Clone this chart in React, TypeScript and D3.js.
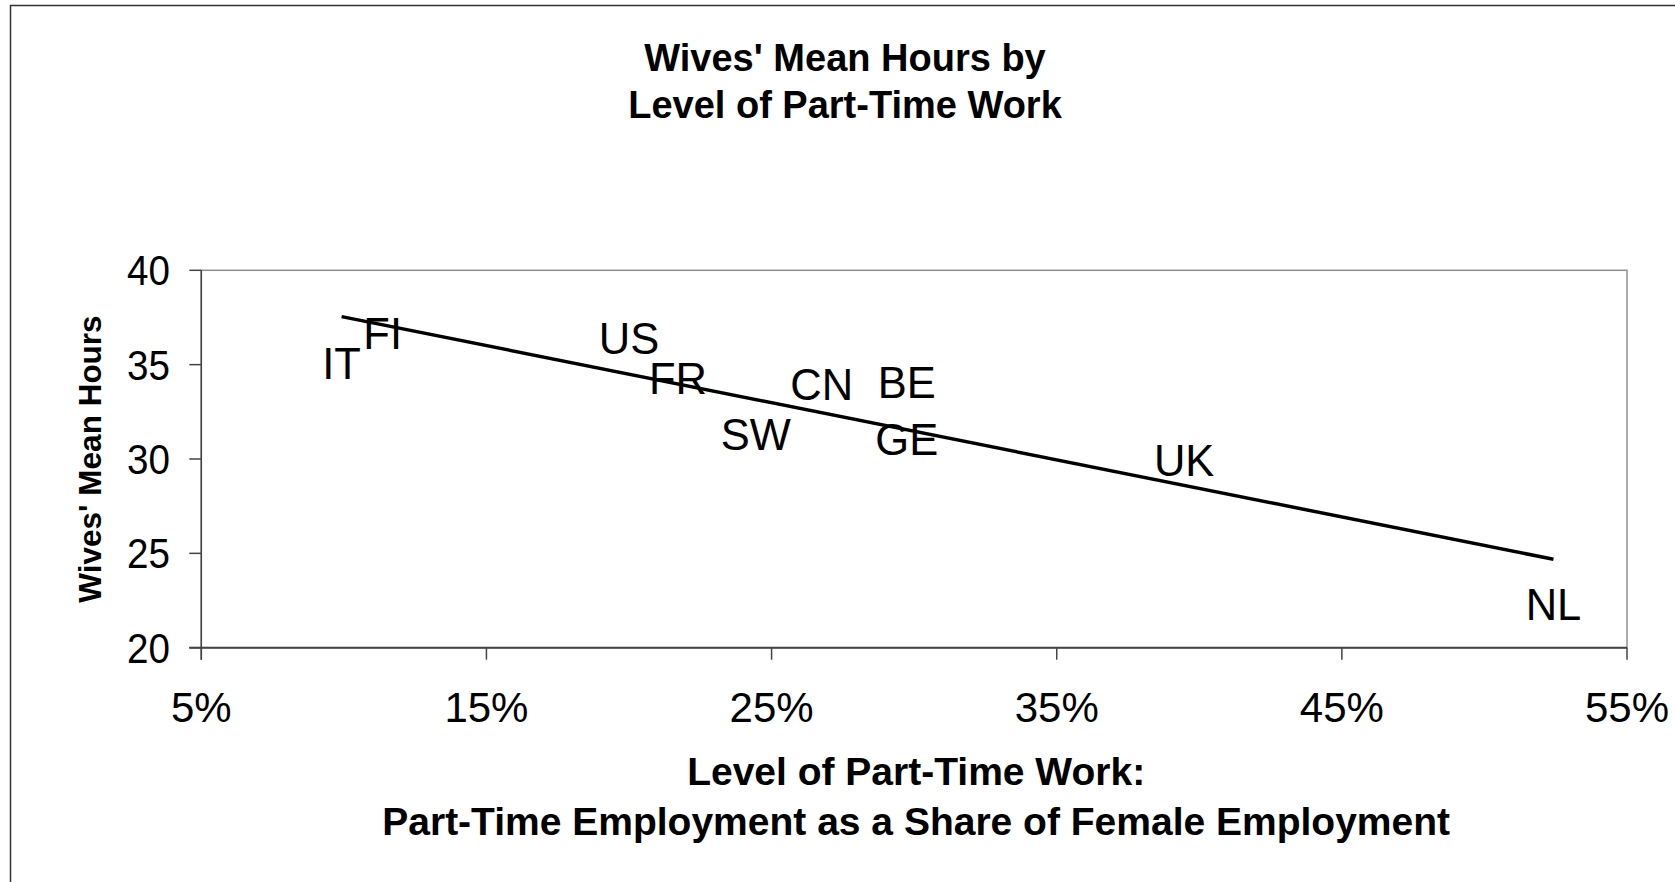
import React from 'react';
import * as d3 from 'd3';

const titleLines = ["Wives' Mean Hours by", 'Level of Part-Time Work'];
const xTitleLines = ['Level of Part-Time Work:', 'Part-Time Employment as a Share of Female Employment'];
const yTitle = "Wives' Mean Hours";

const countries = ['IT', 'FI', 'US', 'FR', 'SW', 'CN', 'BE', 'GE', 'UK', 'NL'];
const partTimeShare = [9.92, 11.36, 20.0, 21.72, 24.45, 26.76, 29.74, 29.74, 39.47, 52.42];
const wivesHours = [35.09, 36.68, 36.41, 34.29, 31.32, 33.97, 34.05, 31.03, 29.95, 22.32];

const xTicks = [5, 15, 25, 35, 45, 55];
const yTicks = [20, 25, 30, 35, 40];

const FONT = '"Liberation Sans", Arial, Helvetica, sans-serif';

export default function App() {
  const W = 1675;
  const H = 882;
  const plot = { left: 201.3, right: 1627, top: 270.3, bottom: 647.7 };

  const x = d3.scaleLinear().domain([5, 55]).range([plot.left, plot.right]);
  const y = d3.scaleLinear().domain([20, 40]).range([plot.bottom, plot.top]);

  // least-squares linear trendline from the data
  const mx = d3.mean(partTimeShare) as number;
  const my = d3.mean(wivesHours) as number;
  let sxy = 0;
  let sxx = 0;
  partTimeShare.forEach((v, i) => {
    sxy += (v - mx) * (wivesHours[i] - my);
    sxx += (v - mx) * (v - mx);
  });
  const slope = sxy / sxx;
  const intercept = my - slope * mx;
  const [x0, x1] = d3.extent(partTimeShare) as [number, number];
  const trend = d3.line<number>()
    .x((d) => x(d))
    .y((d) => y(intercept + slope * d))([x0, x1]);

  const tickLen = 12;
  const cx = (plot.left + plot.right) / 2;
  const cy = (plot.top + plot.bottom) / 2;

  return (
    <svg
      width={W}
      height={H}
      style={{ position: 'absolute', left: 0, top: 0, background: '#fff' }}
      fontFamily={FONT}
    >
      <rect x={0} y={0} width={W} height={H} fill="#fff" />
      {/* chart frame (extends beyond right/bottom) */}
      <rect x={10.5} y={5.5} width={W + 20} height={H + 20} fill="none" stroke="#333" strokeWidth={1.5} />

      {/* title */}
      <text textAnchor="middle" fontWeight="bold" fontSize={38} fill="#000">
        <tspan x={845} y={71}>{titleLines[0]}</tspan>
        <tspan x={845} y={118}>{titleLines[1]}</tspan>
      </text>

      {/* plot area border */}
      <rect
        x={plot.left}
        y={plot.top}
        width={plot.right - plot.left}
        height={plot.bottom - plot.top}
        fill="none"
        stroke="#909090"
        strokeWidth={1.5}
      />
      {/* axes */}
      <line x1={plot.left} x2={plot.left} y1={plot.top} y2={plot.bottom + tickLen} stroke="#444" strokeWidth={1.5} />
      <line x1={plot.left - tickLen} x2={plot.right} y1={plot.bottom} y2={plot.bottom} stroke="#444" strokeWidth={2} />

      {yTicks.map((t) => (
        <g key={'y' + t}>
          <line x1={plot.left - tickLen} x2={plot.left} y1={y(t)} y2={y(t)} stroke="#444" strokeWidth={1.5} />
          <text
            transform={`translate(170, ${y(t)}) scale(0.92, 1)`}
            dy="0.36em"
            textAnchor="end"
            fontSize={42}
            fill="#000"
          >
            {t}
          </text>
        </g>
      ))}
      {xTicks.map((t) => (
        <g key={'x' + t}>
          <line x1={x(t)} x2={x(t)} y1={plot.bottom} y2={plot.bottom + tickLen} stroke="#444" strokeWidth={1.5} />
          <text x={x(t)} y={722} textAnchor="middle" fontSize={42} fill="#000">
            {t + '%'}
          </text>
        </g>
      ))}

      {/* trendline */}
      <path d={trend || ''} fill="none" stroke="#000" strokeWidth={3.5} />

      {/* data labels */}
      {countries.map((c, i) => (
        <text
          key={c}
          x={x(partTimeShare[i])}
          y={y(wivesHours[i])}
          dy="0.36em"
          textAnchor="middle"
          fontSize={43.5}
          fill="#000"
        >
          {c}
        </text>
      ))}

      {/* axis titles */}
      <text textAnchor="middle" fontWeight="bold" fontSize={39} fill="#000">
        <tspan x={cx + 2} y={785}>{xTitleLines[0]}</tspan>
        <tspan x={cx + 2} y={835}>{xTitleLines[1]}</tspan>
      </text>
      <text
        transform={`translate(101, ${cy}) rotate(-90)`}
        textAnchor="middle"
        fontWeight="bold"
        fontSize={31.5}
        fill="#000"
      >
        {yTitle}
      </text>
    </svg>
  );
}
